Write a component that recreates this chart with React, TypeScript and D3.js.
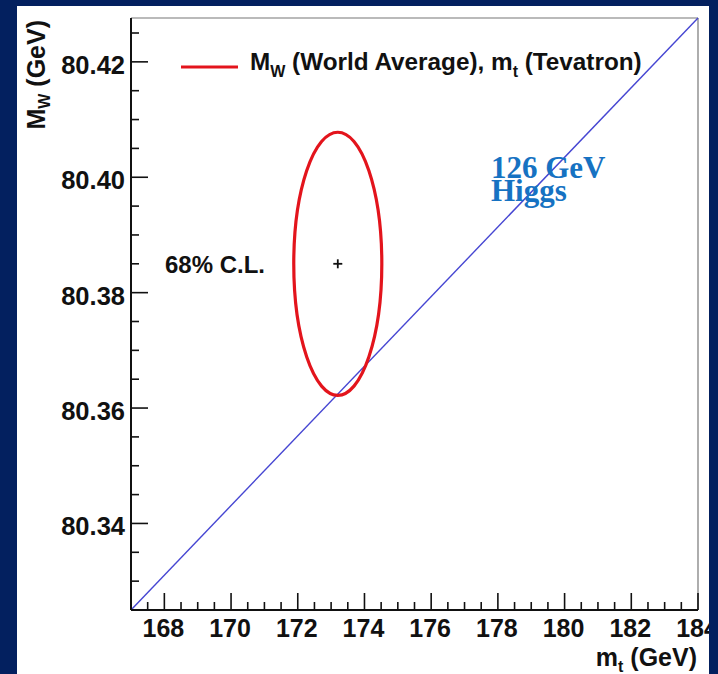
import React from "react";
import * as d3 from "d3";

const W = 718;
const H = 674;

// Axis domains / ticks
const xDomain: [number, number] = [167, 184];
const yDomain: [number, number] = [80.325, 80.4276];
const xTickLabels = [168, 170, 172, 174, 176, 178, 180, 182, 184];
const yTickLabels = [80.34, 80.36, 80.38, 80.4, 80.42];

// Measurement: centre and 68% CL half-widths
const centerMt = [173.2];
const centerMw = [80.385];
const halfWidthMt = [1.32];
const halfWidthMw = [0.0228];

// 126 GeV Higgs line (mt, mW) end points
const higgsMt = [167, 184];
const higgsMw = [80.325, 80.4276];

const margin = { left: 131, right: 20, top: 18, bottom: 64 };

export default function App() {
  const x = d3.scaleLinear().domain(xDomain).range([margin.left, W - margin.right]);
  const y = d3.scaleLinear().domain(yDomain).range([H - margin.bottom, margin.top]);
  const x0 = margin.left, x1 = W - margin.right, y0 = H - margin.bottom, y1 = margin.top;

  const xMinor = d3.range(167, 184.001, 0.5);
  const yMinor = d3.range(80.325, 80.4276, 0.005);

  const line = d3.line<number>().x((_, i) => x(higgsMt[i])).y((d) => y(d));
  const higgsPath = line(higgsMw) || "";

  const cx = x(centerMt[0]);
  const cy = y(centerMw[0]);
  const rx = x(centerMt[0] + halfWidthMt[0]) - cx;
  const ry = cy - y(centerMw[0] + halfWidthMw[0]);

  const font = "'Liberation Sans', Arial, Helvetica, sans-serif";
  const serif = "'Liberation Serif', 'Times New Roman', serif";

  return (
    <svg
      width={W}
      height={H}
      style={{ position: "fixed", left: 0, top: 0, display: "block" }}
      fontFamily={font}
    >
      <rect x={0} y={0} width={W} height={H} fill="#03205f" />
      <rect x={17} y={6} width={692} height={H - 6} fill="#ffffff" />

      {/* frame */}
      <line x1={x0} y1={y1} x2={x1} y2={y1} stroke="#777" strokeWidth={1.2} />
      <line x1={x1} y1={y1} x2={x1} y2={y0} stroke="#777" strokeWidth={1.2} />

      {/* Higgs line */}
      <path d={higgsPath} stroke="#4646d2" strokeWidth={1.4} fill="none" />

      {/* axes */}
      <line x1={x0} y1={y1} x2={x0} y2={y0} stroke="#111" strokeWidth={2} />
      <line x1={x0} y1={y0} x2={x1} y2={y0} stroke="#111" strokeWidth={2} />

      {xMinor.map((v, i) => {
        const major = xTickLabels.some((t) => Math.abs(t - v) < 1e-6);
        return (
          <line key={"xm" + i} x1={x(v)} x2={x(v)} y1={y0} y2={y0 - (major ? 17 : 8)} stroke="#111" strokeWidth={1.6} />
        );
      })}
      {yMinor.map((v, i) => {
        const major = yTickLabels.some((t) => Math.abs(t - v) < 1e-6);
        return (
          <line key={"ym" + i} x1={x0} x2={x0 + (major ? 17 : 8)} y1={y(v)} y2={y(v)} stroke="#111" strokeWidth={1.6} />
        );
      })}

      {xTickLabels.map((t) => (
        <text key={"xt" + t} x={x(t) - 1} y={637} textAnchor="middle" fontSize={25} fontWeight="bold" fill="#111">
          {t}
        </text>
      ))}
      {yTickLabels.map((t) => (
        <text key={"yt" + t} x={125} y={y(t) + 12} textAnchor="end" fontSize={25.5} fontWeight="bold" fill="#111">
          {t.toFixed(2)}
        </text>
      ))}

      {/* navy band on right, clipping last tick label as in reference */}
      <rect x={709} y={0} width={W - 709} height={H} fill="#03205f" />

      {/* axis titles */}
      <text x={697} y={666} textAnchor="end" fontSize={25} fontWeight="bold" fill="#111">
        m<tspan fontSize={16} dy={6}>t</tspan>
        <tspan dy={-6}> (GeV)</tspan>
      </text>
      <text transform="translate(45,20) rotate(-90)" textAnchor="end" fontSize={25} fontWeight="bold" fill="#111">
        M<tspan fontSize={16} dy={5}>W</tspan>
        <tspan dy={-5}> (GeV)</tspan>
      </text>

      {/* ellipse */}
      <ellipse cx={cx} cy={cy} rx={rx} ry={ry} fill="none" stroke="#e3141c" strokeWidth={3.2} />
      <line x1={cx - 4.5} x2={cx + 4.5} y1={cy} y2={cy} stroke="#111" strokeWidth={1.8} />
      <line x1={cx} x2={cx} y1={cy - 4.5} y2={cy + 4.5} stroke="#111" strokeWidth={1.8} />

      {/* legend */}
      <line x1={181} x2={238} y1={67} y2={67} stroke="#e3141c" strokeWidth={3.2} />
      <text x={250} y={70} fontSize={24.3} fontWeight="bold" fill="#111">
        M<tspan fontSize={16} dy={7}>W</tspan>
        <tspan dy={-7}> (World Average), m</tspan>
        <tspan fontSize={16} dy={7}>t</tspan>
        <tspan dy={-7}> (Tevatron)</tspan>
      </text>

      <text x={165} y={273} fontSize={24} fontWeight="bold" fill="#111">
        68% C.L.
      </text>

      <text x={491} y={178} fontSize={31} fontWeight="bold" fill="#1672c2" fontFamily={serif}>
        126 GeV
        <tspan x={491} dy={23}>Higgs</tspan>
      </text>
    </svg>
  );
}
